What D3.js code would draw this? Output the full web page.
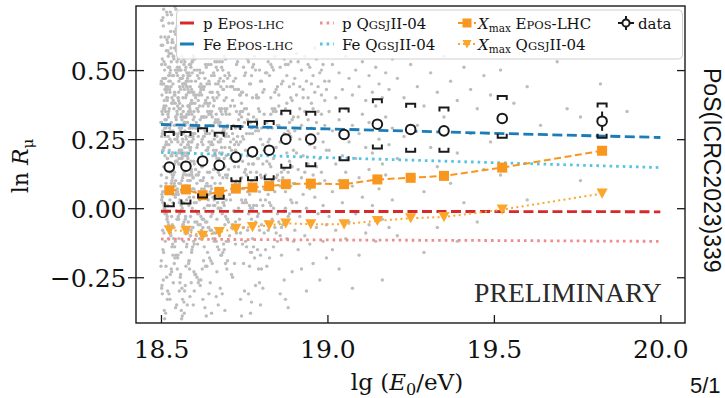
<!DOCTYPE html>
<html><head><meta charset="utf-8">
<script src="https://cdn.jsdelivr.net/npm/d3@7"></script>
<style>body{margin:0;background:#fff;}svg{display:block}</style>
</head><body>
<svg id="chart" width="725" height="398"></svg>
<script>
// ---- measured bins (lg E) and data ----
const binLgE   = [18.525,18.575,18.625,18.675,18.725,18.775,18.825,18.875,18.95,19.05,19.15,19.25,19.35,19.525,19.825];
const dataLnR  = [0.149,0.152,0.171,0.155,0.185,0.204,0.210,0.250,0.250,0.267,0.304,0.285,0.280,0.325,0.315];
const statErr  = [0.008,0.008,0.009,0.009,0.010,0.010,0.011,0.012,0.012,0.013,0.015,0.016,0.017,0.018,0.035];
const sysUpper = [0.276,0.276,0.289,0.273,0.298,0.313,0.316,0.353,0.349,0.361,0.394,0.378,0.365,0.406,0.379];
const sysLower = [0.007,0.017,0.039,0.034,0.098,0.101,0.105,0.146,0.152,0.174,0.216,0.204,0.204,0.255,0.255];
const xmaxEpos = [0.065,0.068,0.047,0.059,0.071,0.075,0.080,0.087,0.089,0.087,0.104,0.110,0.117,0.147,0.208];
const xmaxQgs  = [-0.080,-0.082,-0.100,-0.086,-0.074,-0.068,-0.062,-0.055,-0.058,-0.058,-0.046,-0.036,-0.032,-0.005,0.053];
// ---- model expectations ----
const modelLgE = [18.5,19.0,19.5,20.0];
const pEpos  = [-0.011,-0.012,-0.012,-0.013];
const feEpos = [0.303,0.287,0.271,0.256];
const pQgs   = [-0.112,-0.115,-0.117,-0.120];
const feQgs  = [0.202,0.183,0.165,0.147];
// ---- ticks ----
const xTicks = [18.5,19.0,19.5,20.0];
const yTicks = [-0.25,0.0,0.25,0.50];
// ---- individual events: [lg E, [ln R values of events at that energy]] ----
const events = [
[18.500,[0.62,0.31,0.08,-0.21,0.45]],[18.519,[0.70,0.18,-0.03,0.39,-0.33]],[18.538,[0.55,0.27,0.12,-0.11,0.48]],
[18.507,[0.66,0.36,0.02,-0.26,0.21]],[18.526,[0.51,0.14,-0.07,0.43,0.29]],[18.545,[0.72,0.33,0.05,-0.17,0.58]],
[18.514,[0.47,0.23,-0.01,-0.38,0.35]],[18.533,[0.60,0.40,0.10,-0.14,0.19]],[18.502,[0.68,0.26,0.03,-0.29,0.52]],
[18.521,[0.44,0.16,-0.05,0.34,0.57]],[18.540,[0.64,0.30,0.09,-0.20,0.41]],[18.509,[0.53,0.22,-0.09,0.37,0.01]],
[18.528,[0.71,0.46,0.13,-0.24,0.28]],[18.547,[0.49,0.17,0.06,-0.35,0.59]],[18.516,[0.57,0.32,-0.02,0.24,0.42]],
[18.535,[0.67,0.38,0.11,-0.13,0.20]],[18.504,[0.45,0.27,0.04,-0.31,0.54]],[18.523,[0.62,0.15,-0.06,0.35,0.48]],
[18.542,[0.73,0.41,0.08,-0.18,0.25]],[18.511,[0.50,0.29,0.00,-0.40,0.36]],[18.530,[0.58,0.19,-0.10,0.44,0.13]],
[18.549,[0.66,0.34,0.07,-0.22,0.51]],[18.518,[0.43,0.23,-0.04,0.30,0.61]],[18.537,[0.55,0.39,0.14,-0.27,0.05]],
[18.506,[0.69,0.28,0.02,-0.15,0.47]],[18.525,[0.48,0.21,-0.08,0.36,0.56]],[18.544,[0.63,0.33,0.10,-0.36,0.17]],
[18.513,[0.52,0.43,0.06,-0.12,0.26]],[18.532,[0.70,0.24,-0.03,0.38,-0.23]],[18.501,[0.46,0.31,0.12,-0.19,0.59]],
[18.520,[0.60,0.18,0.01,0.40,-0.30]],[18.539,[0.54,0.36,-0.07,0.27,0.08]],[18.508,[0.72,0.45,0.15,-0.16,0.22]],
[18.527,[0.49,0.25,0.03,-0.33,0.42]],[18.546,[0.65,0.32,-0.01,0.19,0.57]],[18.515,[0.44,0.37,0.09,-0.21,0.29]],
[18.534,[0.61,0.20,-0.06,0.48,0.12]],[18.503,[0.68,0.35,0.05,-0.28,0.41]],[18.522,[0.51,0.26,-0.11,0.33,0.55]],
[18.541,[0.58,0.42,0.13,-0.14,0.16]],[18.510,[0.47,0.22,0.00,-0.37,0.39]],[18.529,[0.64,0.30,0.07,-0.09,0.50]],
[18.548,[0.53,0.17,-0.04,0.35,0.25]],[18.517,[0.71,0.40,0.11,-0.25,0.44]],[18.536,[0.45,0.28,0.02,-0.17,0.60]],
[18.505,[0.59,0.34,-0.08,0.21,0.06]],[18.524,[0.67,0.23,0.14,-0.31,0.46]],[18.543,[0.50,0.38,0.04,-0.12,0.27]],
[18.512,[0.62,0.19,-0.02,0.43,0.32]],[18.531,[0.56,0.31,0.09,-0.22,0.53]],
[18.550,[0.48,0.26,0.06,-0.18,0.37]],[18.569,[0.52,0.33,-0.05,0.15,-0.34]],[18.588,[0.44,0.21,0.10,-0.10,0.30]],
[18.557,[0.50,0.36,0.03,-0.27,0.18]],[18.576,[0.41,0.25,-0.07,0.46,0.12]],[18.595,[0.53,0.29,0.07,-0.14,0.38]],
[18.564,[0.47,0.19,0.00,-0.39,0.33]],[18.583,[0.42,0.35,0.12,-0.20,0.24]],[18.552,[0.54,0.27,-0.03,0.40,0.05]],
[18.571,[0.45,0.22,0.08,-0.30,0.31]],[18.590,[0.51,0.38,0.14,-0.08,0.17]],[18.559,[0.43,0.28,-0.01,-0.24,0.47]],
[18.578,[0.49,0.20,0.06,0.34,-0.13]],[18.597,[0.55,0.32,0.11,-0.35,0.25]],[18.566,[0.40,0.24,-0.06,0.15,0.44]],
[18.585,[0.52,0.37,0.04,-0.19,0.29]],[18.554,[0.46,0.18,0.09,-0.11,0.36]],[18.573,[0.50,0.30,-0.04,0.22,-0.28]],
[18.592,[0.43,0.26,0.13,-0.16,0.39]],[18.561,[0.53,0.34,0.01,0.20,-0.37]],[18.580,[0.47,0.23,-0.09,0.31,0.10]],
[18.599,[0.41,0.35,0.07,-0.23,0.27]],[18.568,[0.54,0.19,0.02,-0.12,0.45]],[18.587,[0.48,0.29,0.12,-0.32,0.36]],
[18.556,[0.44,0.21,-0.02,0.38,0.16]],[18.575,[0.51,0.33,0.08,-0.21,0.26]],[18.594,[0.42,0.27,0.00,-0.07,0.49]],
[18.563,[0.55,0.18,0.10,-0.29,0.32]],[18.582,[0.46,0.37,-0.05,0.23,0.14]],[18.551,[0.50,0.24,0.05,-0.17,0.40]],
[18.570,[0.43,0.31,0.13,-0.38,0.20]],[18.589,[0.52,0.22,-0.03,0.35,-0.10]],[18.558,[0.47,0.36,0.09,-0.25,0.28]],
[18.577,[0.41,0.19,0.03,-0.14,0.44]],[18.596,[0.54,0.30,-0.07,0.26,0.11]],[18.565,[0.45,0.25,0.11,-0.33,0.37]],
[18.584,[0.49,0.34,0.01,-0.19,0.22]],[18.553,[0.42,0.20,-0.04,0.39,0.16]],[18.572,[0.53,0.28,0.07,-0.09,0.31]],
[18.591,[0.46,0.38,0.14,-0.27,0.24]],[18.560,[0.50,0.23,-0.01,0.33,-0.16]],[18.579,[0.44,0.31,0.08,-0.35,0.19]],
[18.598,[0.55,0.17,0.04,-0.12,0.42]],[18.567,[0.48,0.35,-0.06,0.27,0.12]],[18.586,[0.42,0.26,0.10,-0.22,0.37]],
[18.555,[0.51,0.21,0.02,-0.30,0.29]],[18.574,[0.45,0.33,-0.03,0.40,0.15]],[18.593,[0.53,0.24,0.12,-0.15,0.34]],
[18.562,[0.47,0.29,0.06,-0.40,0.21]],[18.581,[0.43,0.37,-0.08,0.18,0.48]],
[18.600,[0.50,0.33,0.16,0.02,-0.13,-0.30]],[18.638,[0.45,0.27,0.09,-0.05,0.38,-0.21]],[18.676,[0.53,0.36,0.20,0.04,-0.10,0.12]],
[18.614,[0.41,0.30,0.13,-0.02,-0.26,0.47]],[18.652,[0.48,0.24,0.07,-0.08,0.35,-0.38]],[18.690,[0.55,0.39,0.18,0.01,-0.15,0.28]],
[18.628,[0.43,0.26,0.11,-0.04,0.33,-0.19]],[18.666,[0.51,0.34,0.21,0.05,-0.12,-0.32]],[18.604,[0.46,0.29,0.14,-0.01,0.40,-0.24]],
[18.642,[0.52,0.37,0.08,-0.07,0.22,0.03]],[18.680,[0.44,0.25,0.16,0.00,-0.17,0.35]],[18.618,[0.49,0.32,0.10,-0.06,-0.28,0.42]],
[18.656,[0.40,0.23,0.19,0.04,-0.11,0.30]],[18.694,[0.54,0.35,0.12,-0.03,-0.20,0.26]],[18.632,[0.47,0.28,0.06,-0.09,0.38,-0.36]],
[18.670,[0.42,0.31,0.17,0.02,-0.14,0.50]],[18.608,[0.50,0.22,0.09,-0.05,0.36,-0.25]],[18.646,[0.45,0.38,0.13,0.01,-0.18,0.27]],
[18.684,[0.53,0.27,0.20,-0.02,-0.31,0.34]],[18.622,[0.41,0.33,0.07,-0.08,0.24,0.15]],[18.660,[0.48,0.25,0.14,0.03,-0.12,0.39]],
[18.698,[0.44,0.36,0.11,-0.04,-0.22,0.29]],[18.636,[0.51,0.21,0.05,-0.10,0.33,-0.39]],[18.674,[0.46,0.30,0.18,0.00,-0.15,0.41]],
[18.612,[0.39,0.26,0.12,-0.06,0.35,-0.27]],[18.650,[0.52,0.34,0.08,-0.03,-0.19,0.23]],[18.688,[0.43,0.29,0.16,0.02,-0.13,0.46]],
[18.626,[0.49,0.23,0.10,-0.07,0.37,-0.33]],[18.664,[0.45,0.32,0.19,0.04,-0.09,0.27]],[18.602,[0.54,0.27,0.06,-0.05,-0.24,0.38]],
[18.640,[0.40,0.35,0.13,0.01,-0.16,0.21]],[18.678,[0.47,0.24,0.09,-0.08,0.31,-0.29]],[18.616,[0.50,0.37,0.17,0.03,-0.11,0.44]],
[18.654,[0.42,0.28,0.11,-0.02,-0.20,0.33]],[18.692,[0.48,0.22,0.15,-0.06,0.36,-0.37]],[18.630,[0.44,0.33,0.07,0.00,-0.14,0.26]],
[18.668,[0.53,0.26,0.18,-0.04,-0.23,0.40]],[18.606,[0.41,0.31,0.12,0.02,-0.10,0.29]],[18.644,[0.46,0.24,0.05,-0.07,0.34,-0.31]],
[18.682,[0.51,0.36,0.16,0.04,-0.17,0.22]],[18.620,[0.43,0.29,0.10,-0.03,-0.26,0.45]],[18.658,[0.49,0.21,0.14,-0.09,0.37,0.01]],
[18.696,[0.40,0.34,0.19,0.03,-0.12,0.27]],[18.634,[0.52,0.27,0.08,-0.05,-0.21,0.39]],[18.672,[0.45,0.32,0.13,0.00,-0.35,0.24]],
[18.610,[0.48,0.23,0.17,-0.02,-0.13,0.36]],[18.648,[0.42,0.35,0.06,-0.08,0.30,-0.27]],[18.686,[0.50,0.28,0.11,0.02,-0.16,0.43]],
[18.624,[0.44,0.25,0.15,-0.04,0.33,-0.22]],[18.662,[0.53,0.31,0.09,0.01,-0.11,0.20]],
[18.700,[0.47,0.30,0.12,-0.04,-0.19]],[18.739,[0.41,0.24,0.07,-0.09,0.35,-0.33]],[18.778,[0.52,0.33,0.16,0.01,-0.14]],
[18.715,[0.44,0.27,0.10,-0.06,0.39,-0.25]],[18.754,[0.49,0.21,0.14,0.03,-0.12]],[18.793,[0.40,0.36,0.18,-0.02,-0.22,0.28]],
[18.730,[0.53,0.26,0.08,-0.07,0.43]],[18.769,[0.45,0.31,0.13,0.00,-0.16,-0.38]],[18.706,[0.48,0.22,0.05,-0.10,0.34]],
[18.745,[0.42,0.35,0.17,0.02,-0.13,0.26]],[18.784,[0.50,0.28,0.11,-0.05,-0.28]],[18.721,[0.43,0.23,0.15,-0.01,0.37,-0.20]],
[18.760,[0.54,0.32,0.06,-0.08,0.19]],[18.799,[0.46,0.25,0.12,0.03,-0.17,-0.35]],[18.736,[0.41,0.34,0.09,-0.04,0.29]],
[18.775,[0.51,0.27,0.16,0.00,-0.11,0.40]],[18.712,[0.44,0.21,0.07,-0.07,-0.24]],[18.751,[0.48,0.36,0.13,0.02,0.31,-0.30]],
[18.790,[0.40,0.29,0.18,-0.03,-0.15]],[18.727,[0.52,0.24,0.10,-0.09,0.35]],[18.766,[0.45,0.31,0.05,0.01,-0.21,0.27]],
[18.703,[0.49,0.26,0.14,-0.05,-0.12]],[18.742,[0.42,0.33,0.11,0.03,0.38,-0.39]],[18.781,[0.55,0.22,0.08,-0.06,-0.18]],
[18.718,[0.46,0.30,0.17,-0.01,0.25]],[18.757,[0.41,0.27,0.12,0.02,-0.14,0.36]],[18.796,[0.50,0.35,0.06,-0.08,-0.27]],
[18.733,[0.43,0.23,0.15,0.00,0.32]],[18.772,[0.48,0.29,0.10,-0.04,-0.16,-0.34]],[18.709,[0.44,0.37,0.18,0.03,0.24]],
[18.748,[0.51,0.25,0.07,-0.07,-0.20]],[18.787,[0.40,0.32,0.13,0.01,0.41]],[18.724,[0.47,0.21,0.09,-0.05,-0.13,0.29]],
[18.763,[0.53,0.34,0.16,-0.02,-0.31]],
[18.802,[0.46,0.29,0.11,-0.06,-0.22]],[18.830,[0.40,0.34,0.15,0.01,0.52]],[18.858,[0.51,0.24,0.08,-0.10,-0.31]],
[18.886,[0.44,0.31,0.17,-0.02,0.27]],[18.814,[0.49,0.22,0.12,0.03,-0.15]],[18.842,[0.42,0.36,0.06,-0.07,0.55]],
[18.870,[0.54,0.27,0.14,-0.01,-0.26]],[18.898,[0.45,0.33,0.09,-0.12,0.21]],[18.826,[0.48,0.25,0.16,0.02,-0.18]],
[18.854,[0.41,0.37,0.10,-0.05,0.30]],[18.882,[0.52,0.28,0.13,-0.03,-0.36]],[18.810,[0.43,0.21,0.07,-0.09,0.34]],
[18.838,[0.50,0.35,0.18,0.00,-0.14]],[18.866,[0.46,0.26,0.11,-0.06,0.58]],[18.894,[0.39,0.32,0.15,0.02,-0.23]],
[18.822,[0.53,0.24,0.05,-0.08,0.29]],[18.850,[0.44,0.30,0.12,-0.02,-0.12]],[18.878,[0.48,0.38,0.09,-0.11,0.20]],
[18.806,[0.42,0.23,0.16,0.01,-0.29]],[18.834,[0.51,0.29,0.10,-0.04,0.36]],[18.862,[0.45,0.34,0.13,-0.07,-0.17]],
[18.890,[0.40,0.26,0.08,0.03,0.53]],[18.818,[0.49,0.31,0.17,-0.05,-0.21]],[18.846,[0.43,0.22,0.11,-0.09,0.35]],
[18.874,[0.52,0.36,0.06,0.00,-0.33]],
[18.902,[0.47,0.28,0.09,-0.08]],[18.907,[0.41,0.20,0.02,0.56]],[18.912,[0.53,0.33,0.14,-0.15]],[18.917,[0.44,0.25,-0.03,0.36]],
[18.922,[0.50,0.30,0.11,-0.22]],[18.927,[0.43,0.19,0.05,0.40]],[18.932,[0.55,0.35,0.13,-0.10]],[18.937,[0.46,0.26,0.00,-0.30]],
[18.942,[0.40,0.32,0.16,0.52]],[18.947,[0.51,0.23,0.07,-0.13]],[18.952,[0.45,0.29,-0.05,0.38]],[18.957,[0.48,0.36,0.12,-0.20]],
[18.962,[0.42,0.22,0.04,0.58]],[18.967,[0.54,0.31,0.15,-0.07]],[18.972,[0.44,0.27,-0.02,0.35]],[18.977,[0.49,0.18,0.09,-0.26]],
[18.982,[0.41,0.34,0.13,0.50]],[18.987,[0.52,0.24,0.01,-0.12]],[18.992,[0.46,0.30,0.10,0.39]],[18.997,[0.43,0.21,-0.06,-0.18]],
[19.005,[0.46,0.21,-0.03,0.35]],[19.015,[0.52,0.28,0.06,-0.15]],[19.025,[0.40,0.16,-0.08]],[19.035,[0.49,0.32,0.10,-0.22]],
[19.045,[0.43,0.19,0.02]],[19.055,[0.55,0.36,0.13,-0.11]],[19.065,[0.47,0.24,-0.05]],[19.075,[0.41,0.30,0.08,-0.29]],
[19.085,[0.50,0.18,-0.02]],[19.095,[0.44,0.27,0.11,-0.17]],[19.105,[0.53,0.34,0.04]],[19.115,[0.39,0.22,-0.09]],
[19.125,[0.48,0.31,0.14,-0.06]],[19.135,[0.42,0.20,0.01]],[19.145,[0.51,0.37,-0.12]],[19.155,[0.45,0.25,0.07]],
[19.165,[0.40,0.16,-0.04,-0.26]],[19.175,[0.49,0.33,0.12]],[19.185,[0.43,0.23,-0.07]],[19.195,[0.54,0.29,0.03]],
[19.21,[0.47,0.18,-0.10]],[19.23,[0.40,0.26]],[19.25,[0.52,0.12,-0.03]],[19.27,[0.44,0.30]],[19.29,[0.37,0.06,-0.16]],
[19.31,[0.49,0.22]],[19.33,[0.42,0.15,-0.07]],[19.35,[0.55,0.33]],[19.37,[0.46,0.09]],[19.39,[0.39,0.20,-0.12]],
[19.41,[0.51,0.02]],[19.43,[0.43,0.27]],[19.45,[0.36,-0.05]],[19.47,[0.48,0.14]],[19.49,[0.41,0.24]],
[19.52,[0.50,0.12]],[19.56,[0.38]],[19.60,[0.44,0.03]],[19.64,[0.30]],[19.69,[0.53]],[19.72,[0.36]],
[19.76,[0.33,0.10]],[19.82,[0.45]],[19.90,[0.35]]
];

// ---- legend entries ----
const legendLabels = [
  {col:0,row:0,key:"pEpos",parts:[["p ",""],["E",""],["POS-LHC","sc"]]},
  {col:0,row:1,key:"feEpos",parts:[["Fe ",""],["E",""],["POS-LHC","sc"]]},
  {col:1,row:0,key:"pQgs",parts:[["p ",""],["Q",""],["GSJ","sc"],["II-04",""]]},
  {col:1,row:1,key:"feQgs",parts:[["Fe ",""],["Q",""],["GSJ","sc"],["II-04",""]]},
  {col:2,row:0,key:"xEpos",parts:[["X","it"],["max","sub"],[" E","up"],["POS","sc"],["-LHC",""]]},
  {col:2,row:1,key:"xQgs",parts:[["X","it"],["max","sub"],[" Q","up"],["GSJ","sc"],["II-04",""]]},
  {col:3,row:0,key:"data",parts:[["data",""]]}
];

// ================= drawing =================
const C = {pEpos:"#d62a2a", feEpos:"#1b7db8", pQgs:"#f28b8b", feQgs:"#55c3e6",
           xEpos:"#f8961e", xQgs:"#fca62b", dots:"#bdbdbd", ink:"#1a1a1a"};
const plot = {left:136, right:685, top:6, bottom:323};
const x = d3.scaleLinear().domain([18.425,20.074]).range([plot.left,plot.right]);
const y = d3.scaleLinear().domain([-0.4156,0.732]).range([plot.bottom,plot.top]);
const serif = "'DejaVu Serif', serif";

const svg = d3.select("#chart");
svg.append("defs").append("clipPath").attr("id","clip")
  .append("rect").attr("x",plot.left).attr("y",plot.top)
  .attr("width",plot.right-plot.left).attr("height",plot.bottom-plot.top);
const g = svg.append("g").attr("clip-path","url(#clip)");

// events
const eventPts = events.flatMap(([e,vals]) => vals.map(v => [e,v]));
g.append("g").selectAll("circle").data(eventPts).join("circle")
  .attr("cx",d=>x(d[0])).attr("cy",d=>y(d[1])).attr("r",1.7).attr("fill",C.dots);

// model lines
const line = d3.line().x(d=>x(d[0])).y(d=>y(d[1]));
const models = [
  {vals:pQgs, color:C.pQgs, dash:"2.6,4"},
  {vals:feQgs, color:C.feQgs, dash:"2.6,4"},
  {vals:pEpos, color:C.pEpos, dash:"10,4.5"},
  {vals:feEpos, color:C.feEpos, dash:"10,4.5"}
];
models.forEach(m => {
  g.append("path").attr("d",line(modelLgE.map((e,i)=>[e,m.vals[i]])))
   .attr("fill","none").attr("stroke",m.color).attr("stroke-width",2.8).attr("stroke-dasharray",m.dash);
});

// Xmax predictions
g.append("path").attr("d",line(binLgE.map((e,i)=>[e,xmaxEpos[i]])))
  .attr("fill","none").attr("stroke",C.xEpos).attr("stroke-width",2).attr("stroke-dasharray","7,3.5");
g.append("path").attr("d",line(binLgE.map((e,i)=>[e,xmaxQgs[i]])))
  .attr("fill","none").attr("stroke",C.xQgs).attr("stroke-width",2).attr("stroke-dasharray","2,3.3");
g.append("g").selectAll("rect").data(binLgE.map((e,i)=>[e,xmaxEpos[i]])).join("rect")
  .attr("x",d=>x(d[0])-5).attr("y",d=>y(d[1])-5).attr("width",10).attr("height",10).attr("fill",C.xEpos);
const tri = "M-5.6,-5 L5.6,-5 L0,5.2 Z";
g.append("g").selectAll("path").data(binLgE.map((e,i)=>[e,xmaxQgs[i]])).join("path")
  .attr("d",tri).attr("transform",d=>`translate(${x(d[0])},${y(d[1])})`).attr("fill",C.xQgs);

// systematic brackets
const bw = 4.5, prong = 4;
const br = g.append("g").attr("fill","none").attr("stroke",C.ink).attr("stroke-width",2);
binLgE.forEach((e,i) => {
  const cx = x(e), yu = y(sysUpper[i]), yl = y(sysLower[i]);
  br.append("path").attr("d",`M${cx-bw},${yu+prong} L${cx-bw},${yu} L${cx+bw},${yu} L${cx+bw},${yu+prong}`);
  br.append("path").attr("d",`M${cx-bw},${yl-prong} L${cx-bw},${yl} L${cx+bw},${yl} L${cx+bw},${yl-prong}`);
});
// statistical errors and data points
g.append("g").selectAll("line").data(binLgE.map((e,i)=>i)).join("line")
  .attr("x1",i=>x(binLgE[i])).attr("x2",i=>x(binLgE[i]))
  .attr("y1",i=>y(dataLnR[i]+statErr[i])).attr("y2",i=>y(dataLnR[i]-statErr[i]))
  .attr("stroke",C.ink).attr("stroke-width",2);
g.append("g").selectAll("circle").data(binLgE.map((e,i)=>[e,dataLnR[i]])).join("circle")
  .attr("cx",d=>x(d[0])).attr("cy",d=>y(d[1])).attr("r",4.8)
  .attr("fill","#fff").attr("stroke",C.ink).attr("stroke-width",2);

// PRELIMINARY: fit measured span 474..662 using the real glyph box
const prelim = svg.append("text").attr("x",474).attr("y",302).text("PRELIMINARY")
  .attr("font-family","'Liberation Serif', serif").attr("font-size",25.5).attr("fill","#2a2a2a");
{
  let bb = prelim.node().getBBox();
  if (bb.width > 0) {
    prelim.attr("font-size", 25.5 * 188 / bb.width);
    bb = prelim.node().getBBox();
    prelim.attr("x", 474 - (bb.x - 474));
  }
}

// frame + axes
const axG = svg.append("g").attr("font-family",serif);
const xAxis = axG.append("g").attr("transform",`translate(0,${plot.bottom})`)
  .call(d3.axisBottom(x).tickValues(xTicks).tickSize(-8).tickFormat(d3.format(".1f")));
const yAxis = axG.append("g").attr("transform",`translate(${plot.left},0)`)
  .call(d3.axisLeft(y).tickValues(yTicks).tickSize(8).tickPadding(1.5).tickFormat(d3.format(".2f")));
yAxis.selectAll(".tick line").attr("x1",8);
const yAxisR = axG.append("g").attr("transform",`translate(${plot.right},0)`)
  .call(d3.axisRight(y).tickValues(yTicks).tickSize(-8).tickFormat(""));
[xAxis,yAxis,yAxisR].forEach(a => {
  a.select(".domain").remove();
  a.selectAll(".tick line").attr("stroke",C.ink).attr("stroke-width",1.3);
  a.selectAll("text").attr("font-size",25).attr("fill","#111").attr("font-family",serif);
});
xAxis.selectAll("text").attr("y",35).attr("dy",0);
yAxis.selectAll("text").attr("dy","0.36em");
svg.append("rect").attr("x",plot.left).attr("y",plot.top)
  .attr("width",plot.right-plot.left).attr("height",plot.bottom-plot.top)
  .attr("fill","none").attr("stroke",C.ink).attr("stroke-width",1.4);

// axis titles
const xt = svg.append("text").attr("x",407).attr("y",390).attr("text-anchor","middle")
  .attr("font-family",serif).attr("font-size",23).attr("fill","#111");
xt.append("tspan").text("lg (");
xt.append("tspan").attr("font-style","italic").text("E");
xt.append("tspan").attr("font-size",16).attr("dy",5).text("0");
xt.append("tspan").attr("dy",-5).text("/eV)");
const yt = svg.append("text").attr("transform","translate(27.5,166) rotate(-90)")
  .attr("text-anchor","middle").attr("font-family",serif).attr("font-size",22).attr("fill","#111");
yt.append("tspan").text("ln ");
yt.append("tspan").attr("font-style","italic").text("R");
yt.append("tspan").attr("font-size",15).attr("dy",5).text("μ");

// legend
const leg = svg.append("g");
leg.append("rect").attr("x",176.5).attr("y",10).attr("width",506).attr("height",49).attr("rx",4)
  .attr("fill","#fff").attr("fill-opacity",0.82).attr("stroke","#cfcfcf").attr("stroke-width",1);
const colX = [180,320,458,618], textX = [203,342,478,638], rowY = [23,44];
const handle = {
  pEpos:{color:C.pEpos,dash:null,w:3},
  feEpos:{color:C.feEpos,dash:null,w:3},
  pQgs:{color:C.pQgs,dash:"2.6,4",w:3},
  feQgs:{color:C.feQgs,dash:"2.6,4",w:3}
};
legendLabels.forEach(L => {
  const x0 = colX[L.col], yy = rowY[L.row];
  const h = handle[L.key];
  if (h) {
    leg.append("line").attr("x1",x0).attr("x2",x0+14).attr("y1",yy).attr("y2",yy)
      .attr("stroke",h.color).attr("stroke-width",h.w).attr("stroke-dasharray",h.dash);
  } else if (L.key==="xEpos") {
    leg.append("line").attr("x1",x0).attr("x2",x0+18).attr("y1",yy).attr("y2",yy)
      .attr("stroke",C.xEpos).attr("stroke-width",2).attr("stroke-dasharray","5,3");
    leg.append("rect").attr("x",x0+4.5).attr("y",yy-4.5).attr("width",9).attr("height",9).attr("fill",C.xEpos);
  } else if (L.key==="xQgs") {
    leg.append("line").attr("x1",x0).attr("x2",x0+18).attr("y1",yy).attr("y2",yy)
      .attr("stroke",C.xQgs).attr("stroke-width",2).attr("stroke-dasharray","2,3");
    leg.append("path").attr("d","M-4.6,-4 L4.6,-4 L0,4.4 Z").attr("transform",`translate(${x0+9},${yy})`).attr("fill",C.xQgs);
  } else {
    const cx = x0+8;
    leg.append("line").attr("x1",x0).attr("x2",x0+16).attr("y1",yy).attr("y2",yy).attr("stroke",C.ink).attr("stroke-width",2);
    leg.append("line").attr("x1",cx).attr("x2",cx).attr("y1",yy-7).attr("y2",yy+7).attr("stroke",C.ink).attr("stroke-width",2);
    leg.append("circle").attr("cx",cx).attr("cy",yy).attr("r",3.6).attr("fill","#fff").attr("stroke",C.ink).attr("stroke-width",2);
  }
  const t = leg.append("text").attr("x",textX[L.col]).attr("y",yy+5.5)
    .attr("font-family",serif).attr("font-size",15).attr("fill","#111");
  L.parts.forEach(([s,k]) => {
    const ts = t.append("tspan").text(s);
    if (k==="sc") ts.attr("font-size",11.5);
    if (k==="it") ts.attr("font-style","italic");
    if (k==="sub") ts.attr("font-size",10.5).attr("dy",3.5);
    if (k==="up") ts.attr("dy",-3.5);
  });
});

// page marks
svg.append("text").attr("transform","translate(704,68) rotate(90)")
  .attr("font-family","'Liberation Sans', Arial, sans-serif").attr("font-size",23).attr("fill","#111")
  .text("PoS(ICRC2023)339");
svg.append("text").attr("x",690).attr("y",393)
  .attr("font-family","'Liberation Sans', Arial, sans-serif").attr("font-size",22).attr("fill","#111")
  .text("5/1");
</script>
</body></html>
